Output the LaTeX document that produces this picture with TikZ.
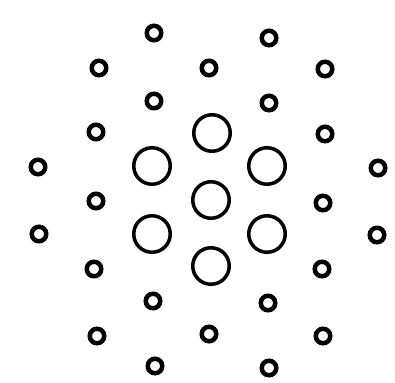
\documentclass[tikz,border=0pt]{standalone}
\begin{document}
\begin{tikzpicture}[x=1pt,y=-1pt,
  smallring/.style={circle,draw=black,line width=4.5pt,minimum size=14.5pt,inner sep=0pt},
  bigring/.style={circle,draw=black,line width=3.5pt,minimum size=36.5pt,inner sep=0pt}]
\useasboundingbox[fill=white] (0,0) rectangle (395,382);
% large rings
\node[bigring] (b1) at (212,133) {};
\node[bigring] (b2) at (152,166) {};
\node[bigring] (b3) at (267,166) {};
\node[bigring] (b4) at (211,200) {};
\node[bigring] (b5) at (152,234) {};
\node[bigring] (b6) at (267,234) {};
\node[bigring] (b7) at (211,266) {};
% small rings
\node[smallring] (s1) at (154,33) {};
\node[smallring] (s2) at (269,38) {};
\node[smallring] (s3) at (99,68) {};
\node[smallring] (s4) at (209,68) {};
\node[smallring] (s5) at (325,69) {};
\node[smallring] (s6) at (154,101) {};
\node[smallring] (s7) at (269,103) {};
\node[smallring] (s8) at (96,132) {};
\node[smallring] (s9) at (325,134) {};
\node[smallring] (s10) at (38,167) {};
\node[smallring] (s11) at (378,168) {};
\node[smallring] (s12) at (96,201) {};
\node[smallring] (s13) at (323,203) {};
\node[smallring] (s14) at (39,234) {};
\node[smallring] (s15) at (377,235) {};
\node[smallring] (s16) at (94,269) {};
\node[smallring] (s17) at (322,269) {};
\node[smallring] (s18) at (153,301) {};
\node[smallring] (s19) at (268,303) {};
\node[smallring] (s20) at (97,336) {};
\node[smallring] (s21) at (209,334) {};
\node[smallring] (s22) at (323,336) {};
\node[smallring] (s23) at (155,366) {};
\node[smallring] (s24) at (269,368) {};
\end{tikzpicture}
\end{document}
